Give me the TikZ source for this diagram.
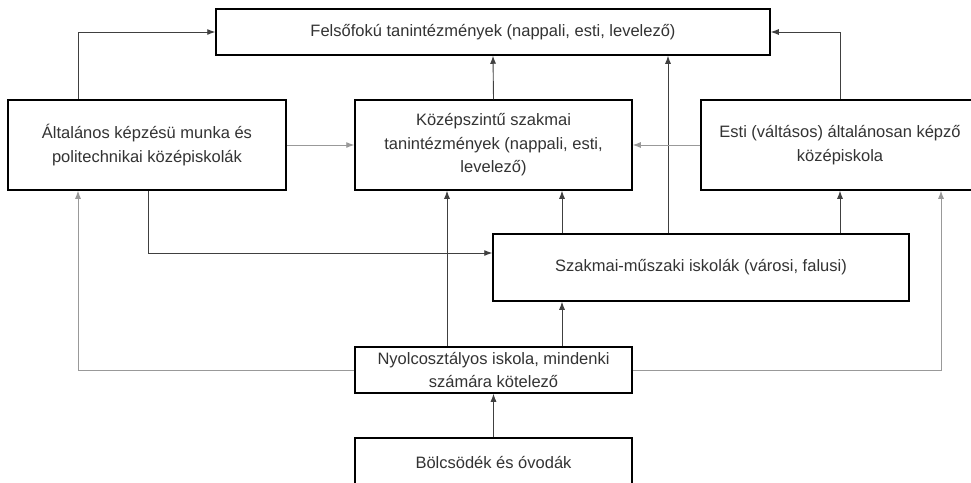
\documentclass[tikz,border=0pt]{standalone}
\usepackage{fontspec}
\setmainfont{Liberation Sans}
\usetikzlibrary{arrows.meta}

\tikzset{
  box/.style={draw=black,line width=1.5pt,fill=white,align=center,
    inner sep=2pt,font=\fontsize{16.5}{23.5}\selectfont,text=black!80},
  arr/.style={-{Latex[length=8pt,width=6pt]},line width=0.9pt,draw=black!75},
  arrl/.style={arr,draw=black!40}
}

\begin{document}
\begin{tikzpicture}[x=1pt,y=-1pt]
\useasboundingbox (0,0) rectangle (971,482);
\clip (0,0) rectangle (971,482);

\node [box,minimum width=554,minimum height=46] (felso) at (493,32) {Felsőfokú tanintézmények (nappali, esti, levelező)};
\node [box,minimum width=278,minimum height=90] (alt) at (147,145) {Általános képzésü munka és\\politechnikai középiskolák};
\node [box,minimum width=277,minimum height=90] (kozep) at (493.5,145) {Középszintű szakmai\\tanintézmények (nappali, esti,\\levelező)};
\node [box,minimum width=278,minimum height=90] (esti) at (840,145) {Esti (váltásos) általánosan képző\\középiskola};
\node [box,minimum width=416,minimum height=67] (szak) at (701,267.5) {Szakmai-műszaki iskolák (városi, falusi)};
\node [box,minimum width=277,minimum height=46] (nyolc) at (493.5,370) {Nyolcosztályos iskola, mindenki\\számára kötelező};
\node [box,minimum width=277,minimum height=48] (bolcs) at (493.5,462) {Bölcsödék és óvodák};

\coordinate (xa) at (78,0);
\coordinate (xb) at (148,0);
\coordinate (xc) at (447,0);
\coordinate (xd) at (562,0);
\coordinate (xe) at (668,0);
\coordinate (xf) at (941,0);
\coordinate (ya) at (0,253);

\draw [arr] (alt.north -| xa) |- (felso.west);
\draw [arr] (kozep.north) -- (felso.south);
\draw [arr] (szak.north -| xe) -- (felso.south -| xe);
\draw [arr] (esti.north) |- (felso.east);

\draw [arrl] (alt.east) -- (kozep.west);
\draw [arrl] (esti.west) -- (kozep.east);

\draw [arr] (alt.south -| xb) |- (szak.west |- ya);
\draw [arr] (nyolc.north -| xc) -- (kozep.south -| xc);
\draw [arr] (szak.north -| xd) -- (kozep.south -| xd);
\draw [arr] (szak.north -| esti.south) -- (esti.south);
\draw [arr] (nyolc.north -| xd) -- (szak.south -| xd);

\draw [arrl] (nyolc.west) -| (alt.south -| xa);
\draw [arrl] (nyolc.east) -| (esti.south -| xf);

\draw [arr] (bolcs.north) -- (nyolc.south);
\end{tikzpicture}
\end{document}
